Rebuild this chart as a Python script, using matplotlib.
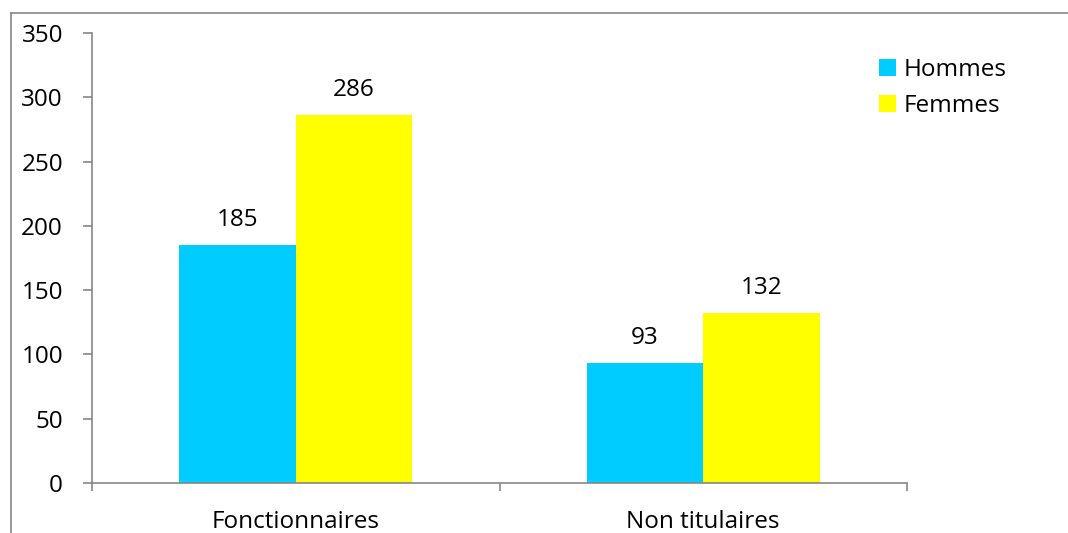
import matplotlib
matplotlib.use("Agg")
import matplotlib.pyplot as plt
from matplotlib.lines import Line2D
import numpy as np

categories = ["Fonctionnaires", "Non titulaires"]
hommes = [185, 93]
femmes = [286, 132]
series_names = ["Hommes", "Femmes"]
y_ticks = [0, 50, 100, 150, 200, 250, 300, 350]

plt.rcParams["font.family"] = ["Open Sans", "DejaVu Sans"]
W, H = 1068, 533
PX = 72 / 100  # points per pixel
FS = 17.5
fig = plt.figure(figsize=(W / 100, H / 100), dpi=100)
ax = fig.add_axes([92 / W, 50 / H, (907 - 92) / W, 450 / H])

axis_col = "#868686"
bar_w = 1 / 3.5
x = np.arange(len(categories))
b1 = ax.bar(x - bar_w / 2, hommes, bar_w, color="#00CCFF", label=series_names[0])
b2 = ax.bar(x + bar_w / 2, femmes, bar_w, color="#FFFF00", label=series_names[1])

for bars, vals in ((b1, hommes), (b2, femmes)):
    for r, v in zip(bars, vals):
        ax.annotate(str(v), (r.get_x() + r.get_width() / 2, v), xytext=(0, 25.5 * PX),
                    textcoords="offset points", ha="center", va="center",
                    fontsize=FS, color="black")

ax.set_xlim(-0.5, 1.5)
ax.set_ylim(0, 350)
ax.set_yticks(y_ticks)
ax.set_xticks([-0.5, 0.5, 1.5])
ax.set_xticklabels([])
ax.set_xticks(x, minor=True)
ax.set_xticklabels(categories, minor=True)
ax.tick_params(axis="x", which="minor", length=0, pad=27 * PX, labelsize=FS)
ax.tick_params(axis="x", which="major", direction="out", length=8 * PX, width=1.2, color=axis_col)
ax.tick_params(axis="y", direction="out", length=9 * PX, width=1.2, color=axis_col,
               labelsize=FS, pad=20 * PX)

for s in ("top", "right"):
    ax.spines[s].set_visible(False)
for s in ("left", "bottom"):
    ax.spines[s].set_color(axis_col)
    ax.spines[s].set_linewidth(1.2)

leg = ax.legend(loc="upper left", bbox_to_anchor=(869 / W, 1 - 48 / H),
                bbox_transform=fig.transFigure, frameon=False, fontsize=FS,
                handlelength=0.7, handleheight=0.7, handletextpad=0.32,
                labelspacing=0.5, borderaxespad=0)

# outer chart frame (partially visible)
fig.add_artist(Line2D([11 / W, 11 / W], [0, 1 - 13 / H], transform=fig.transFigure,
                      color=axis_col, lw=1.2))
fig.add_artist(Line2D([11 / W, 1], [1 - 13 / H, 1 - 13 / H], transform=fig.transFigure,
                      color=axis_col, lw=1.2))

fig.savefig("out.png", dpi=100)
